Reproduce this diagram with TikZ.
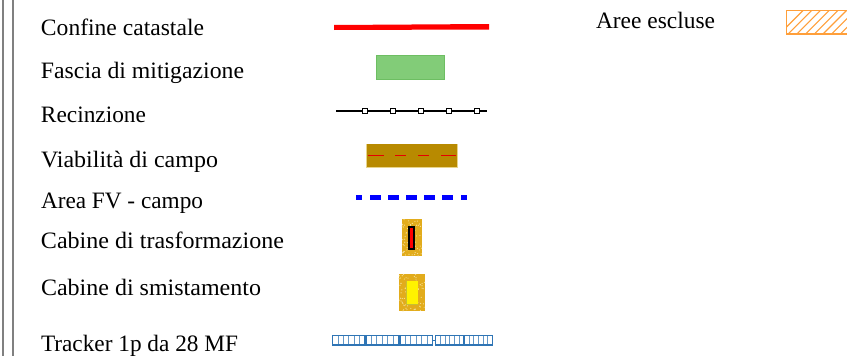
\documentclass[tikz,border=0pt]{standalone}
\usepackage{fontspec}
\setmainfont{Liberation Serif}
\definecolor{rulegray}{HTML}{808080}
\definecolor{redline}{HTML}{FF0000}
\definecolor{greenfill}{HTML}{82CC78}
\definecolor{greenedge}{HTML}{6DBE62}
\definecolor{roadfill}{HTML}{B88A00}
\definecolor{roadedge}{HTML}{E8D48A}
\definecolor{goldfill}{HTML}{E2AC1C}
\definecolor{goldspeck}{HTML}{F6E09A}
\definecolor{trackerblue}{HTML}{2F75B5}
\definecolor{hatchorange}{HTML}{FF9F3A}
\newcommand{\fittext}[2]{\resizebox{#1pt}{\height}{#2}}
\tikzset{
  x=1pt,y=-1pt,
  legendtext/.style={anchor=base west,inner sep=0pt,outer sep=0pt,font=\fontsize{23.5}{26}\selectfont,text=black},
  sideline/.style={draw=rulegray,line width=1.5pt},
  fencepost/.style={draw=black,fill=white,line width=0.9pt,minimum size=4.5pt,inner sep=0pt,shape=rectangle},
  bluedash/.style={fill=blue},
  cell/.style={draw=trackerblue!75,line width=0.8pt},
  cellband/.style={draw=trackerblue,line width=1.2pt},
  speck/.style={fill=goldspeck,draw=none},
}
\begin{document}
\begin{tikzpicture}
\useasboundingbox (0,0) rectangle (847,356);
\fill[white] (0,0) rectangle (847,356);
% left rules
\draw[sideline] (3,0) -- (3,356);
\draw[sideline] (13,0) -- (13,356);
% labels
\node[legendtext] (t1) at (41,35) {\fittext{163}{Confine catastale}};
\node[legendtext] (t2) at (41,78) {\fittext{203}{Fascia di mitigazione}};
\node[legendtext] (t3) at (41,122) {\fittext{105}{Recinzione}};
\node[legendtext] (t4) at (41,167) {\fittext{177}{Viabilità di campo}};
\node[legendtext] (t5) at (41,208) {\fittext{162}{Area FV - campo}};
\node[legendtext] (t6) at (41,248) {\fittext{243}{Cabine di trasformazione}};
\node[legendtext] (t7) at (41,295) {\fittext{220}{Cabine di smistamento}};
\node[legendtext] (t8) at (41,351) {\fittext{197}{Tracker 1p da 28 MF}};
\node[legendtext] (t9) at (596,28) {\fittext{119}{Aree escluse}};
% confine
\fill[redline] (334,25) -- (489,24) -- (489,29.5) -- (334,30) -- cycle;
% fascia
\draw[greenedge,fill=greenfill,line width=1.4pt] (376.5,55.5) rectangle (444.5,79.5);
% recinzione
\draw[black,line width=1.7pt] (336,111) -- (487,111);
\foreach \px in {365,393,421,449,477}
  \node[fencepost] at (\px,111) {};
% viabilita
\fill[roadedge] (365.5,144) rectangle (458,167.5);
\fill[roadfill] (367,144) rectangle (456.5,167);
\foreach \a/\b in {368/384,395/406,418/429,441/456}
  \draw[red!90!black,line width=0.9pt] (\a,155.3) -- (\b,155.3);
% area FV
\foreach \a/\b in {356/362,370/381,388/399,406/417,424/435,442/453,461/467}
  \fill[bluedash] (\a,195.2) rectangle (\b,200);
% cabina trasformazione
\fill[goldfill] (402,219) rectangle (422,256);
\pgfmathsetseed{7}
\foreach \i in {1,...,60}{
  \pgfmathsetmacro{\sx}{402+20*rnd}
  \pgfmathsetmacro{\sy}{219+37*rnd}
  \fill[speck] (\sx,\sy) circle (0.6);
}
\fill[black] (408,226) rectangle (415,250);
\fill[red] (410,228) rectangle (413,248);
% cabina smistamento
\fill[goldfill] (399,274) rectangle (425,311);
\foreach \i in {1,...,80}{
  \pgfmathsetmacro{\sx}{399+26*rnd}
  \pgfmathsetmacro{\sy}{274+37*rnd}
  \fill[speck] (\sx,\sy) circle (0.6);
}
\fill[yellow!75!black] (405.5,281) rectangle (418,305);
\fill[yellow] (406.5,281) rectangle (418,303.5);
% tracker
\foreach \gx/\cw in {332.5/5.4,366/5.4,400/5.4,435.5/4.7,464.5/4.6}{
  \foreach \k in {1,...,5}
    \draw[cell] ({\gx+\k*\cw},335.5) -- ({\gx+\k*\cw},345);
  \draw[cellband] (\gx,335.5) rectangle ({\gx+6*\cw},345);
}
\draw[trackerblue,line width=1.2pt] (432,340.3) -- (435.5,340.3);
% aree escluse
\begin{scope}
  \clip (786,10) rectangle (847,34.5);
  \foreach \h in {0,8.7,...,100}
    \draw[hatchorange,line width=1.1pt] ({779+\h},34.5) -- ({779+\h+25},9.5);
\end{scope}
\draw[hatchorange,line width=1.3pt] (847,10.5) -- (786.5,10.5) -- (786.5,34) -- (847,34);
\end{tikzpicture}
\end{document}
